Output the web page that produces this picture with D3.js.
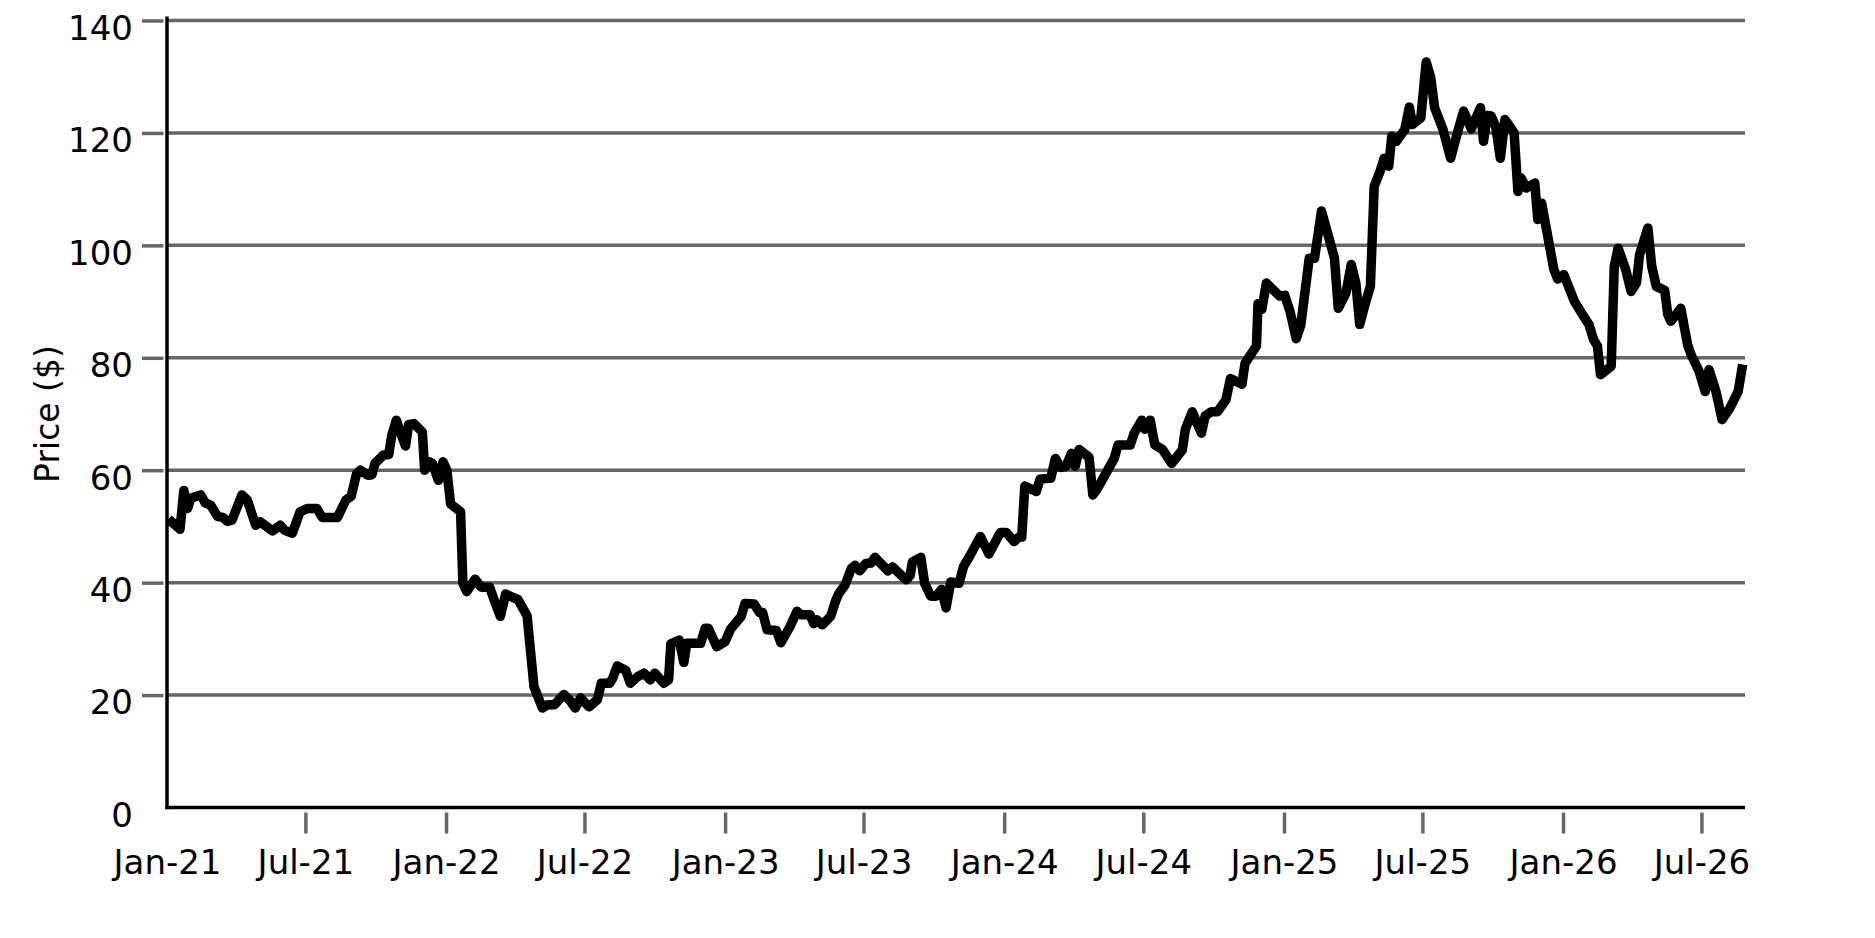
<!DOCTYPE html>
<html>
<head>
<meta charset="utf-8">
<script src="https://cdn.jsdelivr.net/npm/d3@7"></script>
<style>
  html, body { margin: 0; padding: 0; background: #fff; }
  svg { display: block; font-family: 'DejaVu Sans', sans-serif; }
</style>
</head>
<body>
<div id="chart"></div>
<script>

// series start / axis end
const startDate = '2021-01-01';
const endDate = '2026-08-27';

// days since startDate for each close
const days = [
  2, 17, 22, 27, 31, 44, 50, 57, 66, 73, 79, 85, 98, 105, 116, 122, 138, 148, 154, 164,
  174, 184, 196, 203, 223, 234, 241, 248, 253, 263, 268, 272, 283, 290, 294, 300, 306, 312, 316, 323,
  334, 337, 343, 347, 355, 361, 366, 371, 384, 387, 392, 403, 411, 422, 428, 436, 443, 450, 459, 471,
  480, 491, 498, 507, 519, 528, 534, 541, 552, 563, 568, 579, 583, 589, 600, 606, 616, 624, 632, 638,
  650, 656, 659, 670, 676, 680, 698, 704, 708, 719, 730, 737, 751, 756, 768, 775, 779, 785, 797, 803,
  815, 824, 829, 841, 846, 850, 857, 868, 875, 879, 887, 895, 900, 906, 914, 921, 926, 938, 943, 949,
  959, 967, 972, 975, 986, 991, 999, 1006, 1013, 1019, 1025, 1036, 1042, 1051, 1064, 1075, 1090, 1098, 1108, 1114,
  1118, 1122, 1137, 1142, 1156, 1162, 1169, 1176, 1183, 1188, 1193, 1206, 1211, 1216, 1239, 1244, 1260, 1265, 1275, 1279,
  1286, 1292, 1302, 1314, 1328, 1332, 1341, 1353, 1358, 1366, 1374, 1385, 1391, 1406, 1410, 1425, 1427, 1432, 1438, 1455,
  1462, 1469, 1477, 1483, 1494, 1501, 1510, 1518, 1527, 1532, 1542, 1549, 1555, 1560, 1568, 1574, 1579, 1586, 1592, 1598,
  1602, 1608, 1619, 1625, 1629, 1640, 1647, 1653, 1658, 1669, 1679, 1689, 1696, 1706, 1718, 1722, 1727, 1732, 1738, 1744,
  1750, 1762, 1767, 1771, 1778, 1789, 1793, 1798, 1814, 1819, 1827, 1841, 1850, 1860, 1866, 1871, 1875, 1889, 1893, 1898,
  1908, 1915, 1922, 1926, 1937, 1942, 1948, 1959, 1963, 1967, 1980, 1989, 1994, 2004, 2012, 2017, 2026, 2034, 2044, 2055,
  2061
];

const prices = [
  51.3, 49.5, 56.4, 53.2, 55.0, 55.6, 54.2, 53.8, 51.8, 51.6, 50.9, 51.1, 55.6, 54.7, 50.2, 50.8, 49.2, 50.2, 49.3, 48.8,
  52.6, 53.2, 53.2, 51.6, 51.6, 54.7, 55.4, 59.4, 60.0, 59.1, 59.2, 61.2, 62.7, 62.8, 66.2, 68.9, 66.5, 64.3, 68.1, 68.3,
  66.8, 60.0, 61.5, 61.2, 58.2, 61.5, 60.0, 54.0, 52.6, 39.9, 38.4, 40.6, 39.2, 39.2, 36.9, 34.0, 38.0, 37.5, 37.0, 34.1,
  21.5, 17.7, 18.3, 18.3, 20.1, 18.9, 17.7, 19.5, 17.9, 19.2, 22.1, 22.1, 23.0, 25.2, 24.4, 22.1, 23.3, 23.9, 22.7, 23.9,
  22.1, 22.7, 29.1, 29.8, 25.8, 29.2, 29.2, 31.9, 31.9, 28.6, 29.5, 31.7, 34.0, 36.3, 36.2, 34.7, 34.7, 31.6, 31.5, 29.3,
  32.2, 34.9, 34.3, 34.3, 32.7, 33.4, 32.5, 34.0, 36.9, 38.1, 39.6, 42.5, 43.1, 42.1, 43.4, 43.5, 44.5, 42.8, 42.1, 42.8,
  41.5, 40.5, 41.3, 43.7, 44.5, 39.9, 37.6, 37.6, 38.8, 35.5, 40.1, 39.9, 42.9, 45.0, 48.2, 45.1, 48.9, 48.9, 47.3, 48.1,
  48.1, 57.2, 56.2, 58.4, 58.6, 62.1, 60.5, 60.7, 63.0, 60.7, 63.7, 62.3, 55.6, 56.5, 62.1, 64.5, 64.5, 66.6, 68.9, 67.3,
  68.9, 64.5, 63.7, 61.2, 63.6, 67.3, 70.4, 66.6, 69.7, 70.4, 70.4, 72.5, 76.3, 75.3, 79.0, 82.1, 89.6, 88.6, 93.3, 91.0,
  91.1, 88.2, 83.4, 85.8, 97.7, 97.7, 106.1, 102.2, 97.7, 88.8, 91.5, 96.6, 93.3, 85.9, 90.0, 92.7, 110.5, 112.9, 115.5, 114.1,
  119.4, 118.5, 120.6, 124.6, 121.5, 122.7, 132.6, 129.8, 124.5, 120.6, 115.5, 120.6, 123.9, 120.7, 124.5, 118.5, 123.1, 123.0, 121.1, 115.5,
  122.4, 120.0, 109.6, 112.0, 110.2, 111.1, 104.6, 107.5, 95.7, 94.0, 94.8, 90.0, 88.0, 85.9, 83.2, 82.1, 77.0, 78.5, 96.3, 99.5,
  95.7, 91.8, 93.3, 98.3, 103.1, 96.3, 92.7, 92.0, 87.7, 86.5, 88.8, 82.3, 80.4, 77.6, 74.0, 77.9, 74.0, 69.0, 71.0, 74.0,
  78.8
];

const yTicks = [0, 20, 40, 60, 80, 100, 120, 140];
const xTickDates = ['2021-01-01', '2021-07-01', '2022-01-01', '2022-07-01', '2023-01-01', '2023-07-01',
  '2024-01-01', '2024-07-01', '2025-01-01', '2025-07-01', '2026-01-01', '2026-07-01'];
const xTickLabels = ['Jan-21', 'Jul-21', 'Jan-22', 'Jul-22', 'Jan-23', 'Jul-23',
  'Jan-24', 'Jul-24', 'Jan-25', 'Jul-25', 'Jan-26', 'Jul-26'];
const yLabel = 'Price ($)';

const W = 1875, H = 938;
const margin = {top: 20.5, right: 130, bottom: 130.5, left: 167};
const width = W - margin.left - margin.right;
const height = H - margin.top - margin.bottom;
const gridColor = '#666';

const parse = d3.timeParse('%Y-%m-%d');
const t0 = parse(startDate);
const data = days.map((d, i) => ({date: d3.timeDay.offset(t0, d), price: prices[i]}));

const svg = d3.select('#chart').append('svg')
  .attr('width', W)
  .attr('height', H);

const g = svg.append('g')
  .attr('transform', 'translate(' + margin.left + ',' + margin.top + ')');

const x = d3.scaleTime()
  .domain([t0, parse(endDate)])
  .range([0, width]);

const y = d3.scaleLinear()
  .domain([0, 140])
  .range([height, 0]);

// horizontal grid
g.append('g')
  .selectAll('line')
  .data(yTicks.filter(d => d > 0))
  .join('line')
  .attr('x1', 0)
  .attr('x2', width)
  .attr('y1', d => y(d))
  .attr('y2', d => y(d))
  .attr('stroke', gridColor)
  .attr('stroke-width', 3.5);

// y axis: ticks + labels
const yAxis = g.append('g')
  .call(d3.axisLeft(y).tickValues(yTicks).tickSize(0).tickPadding(34));
yAxis.select('.domain').remove();
yAxis.selectAll('text')
  .attr('dy', 0)
  .attr('y', 18.8)
  .attr('fill', '#000')
  .style('font-size', '34px')
  .style('font-family', 'DejaVu Sans');
yAxis.selectAll('.tick')
  .filter(d => d > 0)
  .append('line')
  .attr('x1', -25)
  .attr('x2', -3.5)
  .attr('stroke', gridColor)
  .attr('stroke-width', 3.5);

// x axis: ticks + labels
const xTicks = xTickDates.map(parse);
const xAxis = g.append('g')
  .attr('transform', 'translate(0,' + height + ')')
  .call(d3.axisBottom(x).tickValues(xTicks).tickSize(0).tickFormat((d, i) => xTickLabels[i]));
xAxis.select('.domain').remove();
xAxis.selectAll('text')
  .attr('dy', 0)
  .attr('y', 66)
  .attr('fill', '#000')
  .style('font-size', '34px')
  .style('font-family', 'DejaVu Sans');
xAxis.selectAll('.tick')
  .filter((d, i) => i > 0)
  .append('line')
  .attr('y1', 5)
  .attr('y2', 26)
  .attr('stroke', gridColor)
  .attr('stroke-width', 3.5);

// spines
g.append('line')
  .attr('x1', 0).attr('x2', 0)
  .attr('y1', -4).attr('y2', height + 1.75)
  .attr('stroke', '#000')
  .attr('stroke-width', 3.5);
g.append('line')
  .attr('x1', -1.75).attr('x2', width)
  .attr('y1', height).attr('y2', height)
  .attr('stroke', '#000')
  .attr('stroke-width', 3.5);

// y label
g.append('text')
  .attr('transform', 'translate(' + (59 - margin.left) + ',' + (height / 2) + ') rotate(-90)')
  .attr('text-anchor', 'middle')
  .style('font-size', '33px')
  .style('font-family', 'DejaVu Sans')
  .text(yLabel);

const line = d3.line()
  .x(d => x(d.date))
  .y(d => y(d.price));

g.append('path')
  .datum(data)
  .attr('fill', 'none')
  .attr('stroke', '#000')
  .attr('stroke-width', 9.5)
  .attr('stroke-linejoin', 'round')
  .attr('d', line);

</script>
</body>
</html>
